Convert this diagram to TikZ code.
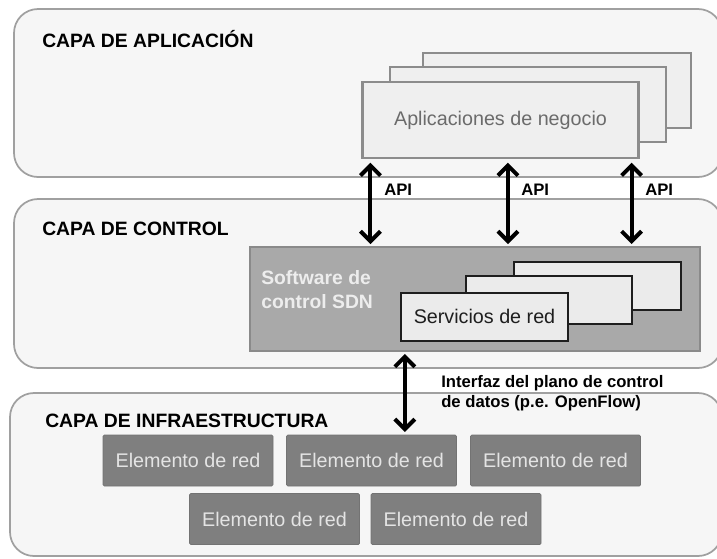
\documentclass[tikz,border=0pt]{standalone}
\usepackage{fontspec}
\setmainfont{Liberation Sans}
\usetikzlibrary{arrows.meta}
\definecolor{layerfill}{HTML}{F6F6F6}
\definecolor{layerline}{HTML}{A0A0A0}
\definecolor{appfill}{HTML}{EFEFEF}
\definecolor{appline}{HTML}{8C8C8C}
\definecolor{apptext}{HTML}{6B6B6B}
\definecolor{sdnfill}{HTML}{A9A9A9}
\definecolor{sdnline}{HTML}{8A8A8A}
\definecolor{sdntext}{HTML}{EDEDED}
\definecolor{servfill}{HTML}{EBEBEB}
\definecolor{servline}{HTML}{1E1E1E}
\definecolor{elfill}{HTML}{7F7F7F}
\definecolor{elline}{HTML}{737373}
\definecolor{eltext}{HTML}{E4E4E4}

\begin{document}
\begin{tikzpicture}[x=0.75pt,y=-0.75pt,
            layer/.style={draw=layerline,fill=layerfill,line width=1.3pt,rounded corners=18pt},
            layertitle/.style={anchor=west,inner sep=0pt,font=\fontsize{14.5}{17}\selectfont\bfseries},
            appbox/.style={draw=appline,fill=appfill,line width=1.6pt,minimum width=207pt,minimum height=56.5pt,
                text=apptext,font=\fontsize{14.8}{17}\selectfont},
            sdnbox/.style={draw=sdnline,fill=sdnfill,line width=1.4pt,minimum width=337.5pt,minimum height=78pt},
            sdnlabel/.style={anchor=west,inner sep=0pt,align=left,text=sdntext,
                font=\fontsize{14.5}{18}\selectfont\bfseries},
            servbox/.style={draw=servline,fill=servfill,line width=1.5pt,minimum width=125pt,minimum height=36pt,
                text=servline,font=\fontsize{14.8}{17}\selectfont},
            elbox/.style={draw=elline,fill=elfill,line width=0.6pt,rounded corners=1pt,minimum width=127.5pt,
                minimum height=38.25pt,text=eltext,font=\fontsize{14.8}{17}\selectfont},
            biarrow/.style={line width=3pt,{Straight Barb[length=7.5pt,width=15pt]}-{Straight Barb[length=7.5pt,width=15pt]}},
            apilabel/.style={anchor=west,inner sep=0pt,font=\fontsize{12.5}{14}\selectfont\bfseries},
            iflabel/.style={anchor=west,inner sep=0pt,align=left,font=\fontsize{12.5}{15}\selectfont\bfseries}]
            \useasboundingbox (0,0) rectangle (717,558);
            \draw[layer] (14,9) rectangle (722,177);
            \draw[layer] (14,199) rectangle (722,368);
            \draw[layer] (10,393) rectangle (722,556);
            \node[layertitle] (apptitle) at (42,39) {CAPA DE APLICACIÓN};
            \node[layertitle] (ctltitle) at (42,229) {CAPA DE CONTROL};
            \node[layertitle] (infratitle) at (45,421) {CAPA DE INFRAESTRUCTURA};
            \node[appbox,minimum width=201pt] (app3) at (557,90.5) {};
            \node[appbox] (app2) at (528,104.5) {};
            \node[appbox] (app1) at (500.5,120) {Aplicaciones de negocio};
            \node[sdnbox] (sdn) at (475,299) {};
            \node[sdnlabel] (sdnname) at (261,290) {Software de\\control SDN};
            \node[servbox] (serv3) at (597.5,286) {};
            \node[servbox] (serv2) at (549,299.5) {};
            \node[servbox] (serv1) at (484.5,316.5) {Servicios de red};
            \node[elbox] (el1) at (188,460.5) {Elemento de red};
            \node[elbox] (el2) at (371.5,460.5) {Elemento de red};
            \node[elbox] (el3) at (555.5,460.5) {Elemento de red};
            \node[elbox] (el4) at (274.5,519) {Elemento de red};
            \node[elbox] (el5) at (456,519) {Elemento de red};
            \draw[biarrow,shorten <=3pt,shorten >=1.5pt] ([xshift=6.75pt]app1.south west) -- ([xshift=6.75pt]app1.south west |- sdn.north);
            \draw[biarrow,shorten <=3pt,shorten >=1.5pt] ([xshift=5.6pt]app1.south) -- ([xshift=5.6pt]app1.south |- sdn.north);
            \draw[biarrow,shorten <=3pt,shorten >=1.5pt] ([xshift=-6pt]app1.south east) -- ([xshift=-6pt]app1.south east |- sdn.north);
            \node[apilabel] (api1) at (384,190) {API};
            \node[apilabel] (api2) at (521,190) {API};
            \node[apilabel] (api3) at (645,190) {API};
            \draw[biarrow,shorten <=1.5pt,shorten >=2pt] ([xshift=25pt]el2.north |- sdn.south) -- ([xshift=25pt]el2.north);
            \node[iflabel] (ifname) at (441,393) {Interfaz del plano de control\\de datos (p.e. OpenFlow)};
\end{tikzpicture}
\end{document}
